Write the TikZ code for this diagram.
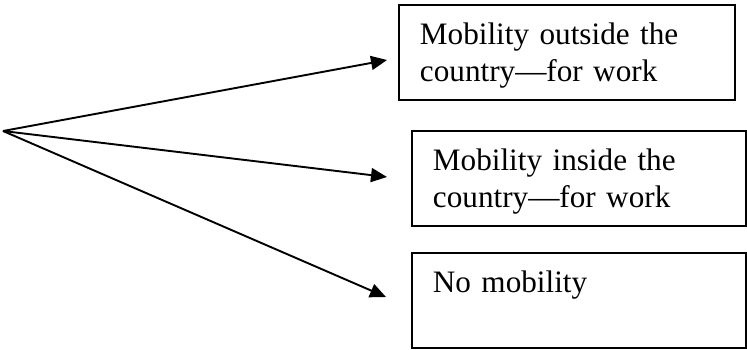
\documentclass[tikz,border=0pt]{standalone}
\usepackage{fontspec}
\setmainfont{Liberation Serif}
\usetikzlibrary{arrows.meta, positioning}

\newcommand{\topstrut}{\rule{0pt}{14pt}}
\newcommand{\botstrut}{\rule[-3.4pt]{0pt}{0pt}}

\begin{document}
\begin{tikzpicture}[x=0.5pt, y=-0.5pt,
  box/.style={draw, line width=0.95pt, anchor=north west, align=left,
    inner xsep=10.5pt, font=\fontsize{15.6}{18.5}\selectfont},
  arr/.style={line width=0.95pt, -{Triangle[length=8pt, width=7pt]}}]
\useasboundingbox (0,0) rectangle (747,349);

\node[box, text width=147pt, minimum height=47.5pt] (outside) at (398,4)
  {\topstrut Mobility outside the\\country---for work};
\node[box, text width=146pt, minimum height=47.5pt] (inside) at (411,130)
  {\topstrut Mobility inside the\\country---for work};
\node[box, text width=146pt, minimum height=47.5pt] (none) at (411,252)
  {\topstrut No mobility\\\botstrut};

\coordinate (src) at (3,131);
\coordinate (tip1) at (387,60);
\coordinate (tip2) at (387,177);
\coordinate (tip3) at (386,297);

\draw[arr] (src) -- (tip1);
\draw[arr] (src) -- (tip2);
\draw[arr] (src) -- (tip3);
\end{tikzpicture}
\end{document}
